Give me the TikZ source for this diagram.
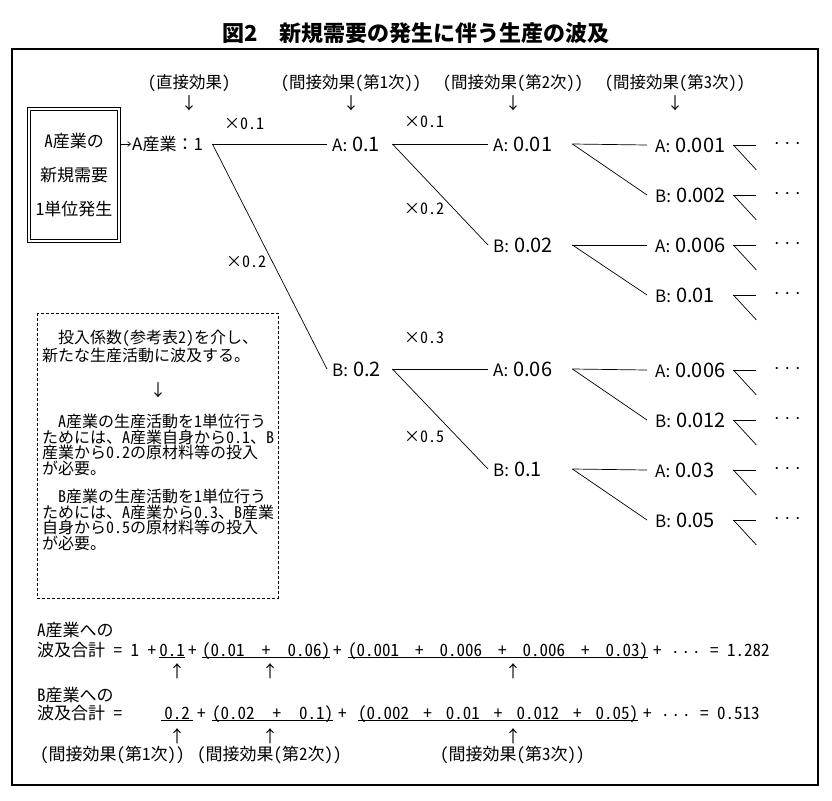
\documentclass[tikz,border=0pt]{standalone}
\usepackage{fontspec}
\setmainfont{Noto Sans CJK JP}
\newfontfamily\hwfont{Noto Sans CJK JP}[CharacterWidth=Half]
\usetikzlibrary{arrows.meta}
\newcommand\fs[1]{\fontsize{#1}{#1}\selectfont}
\newcommand\val[2]{\mbox{{\fs{17}#1:}\hspace{5pt}{\fs{20}#2}}}
\newcommand\spread[2]{\makebox[#1][s]{#2}}

\begin{document}
\begin{tikzpicture}[x=1pt,y=-1pt,every node/.style={inner sep=0pt},
    head/.style={font=\hwfont\fs{16.5}},
    mult/.style={font=\hwfont\fs{16},anchor=west},
    val/.style={anchor=west,inner xsep=5pt,inner ysep=2pt,text width=#1,align=left},
    link/.style={line width=0.7pt},
    note/.style={font=\hwfont\fontsize{16}{15.5}\selectfont,align=left,anchor=north west},
    sum/.style={font=\hwfont\fs{17},anchor=base west},
    ul/.style={sum,minimum width=#1}]
  \useasboundingbox (0,0) rectangle (832,800);
  \node[font=\bfseries\fs{22}] (title) at (416,33) {図2　新規需要の発生に伴う生産の波及};
  \draw[line width=2.5pt] (12,49) rectangle (818,785);

  \node[head] (h0) at (189,83) {(直接効果)};
  \node[head] (h1) at (351,83) {(間接効果(第1次))};
  \node[head] (h2) at (513,83) {(間接効果(第2次))};
  \node[head] (h3) at (675,83) {(間接効果(第3次))};
  \foreach \i/\x in {0/189,1/351,2/513,3/675}
    \node[head] (d\i) at (\x,103) {↓};

  \node[draw,double,line width=1pt,double distance=2.2pt,minimum width=90pt,minimum height=132pt,
    align=center,font=\hwfont\fs{17}] (src) at (74,175) {A産業の\\[17pt]新規需要\\[17pt]1単位発生};
  \node[val=79pt,inner xsep=1pt,font=\fs{17}] (root) at (131,144) {A産業：1};
  \draw[-{Straight Barb[length=3pt,width=5pt]},line width=0.6pt] (src.east |- root.west) -- (root.west);

  \node[val=55pt] (a1) at (327,144) {\val{A}{0.1}};
  \node[val=55pt] (b1) at (327,369) {\val{B}{0.2}};
  \node[val=74pt] (aa) at (488,144) {\val{A}{0.01}};
  \node[val=74pt] (ab) at (488,245) {\val{B}{0.02}};
  \node[val=74pt] (ba) at (488,369) {\val{A}{0.06}};
  \node[val=74pt] (bb) at (488,469) {\val{B}{0.1}};
  \foreach \i/\y/\l/\v in {1/145/A/0.001,2/195/B/0.002,3/245/A/0.006,4/295/B/0.01,
      5/370/A/0.006,6/420/B/0.012,7/470/A/0.03,8/520/B/0.05} {
    \node[val=70pt,inner xsep=8pt] (c\i) at (647,\y) {\val{\l}{\v}};
    \path (c\i.east) ++(23,0) coordinate (s\i) ++(0,25) coordinate (t\i);
    \draw[link] (c\i.east) -- (s\i);
    \draw[link] (c\i.east) -- (t\i);
    \node[font=\fs{10.5}] (e\i) at ([xshift=54pt]c\i.east) {・・・};
  }

  \draw[link] (root.east) -- (a1.west);
  \draw[link] (root.east) -- (b1.west);
  \draw[link] (a1.east) -- (aa.west);
  \draw[link] (a1.east) -- (ab.west);
  \draw[link] (b1.east) -- (ba.west);
  \draw[link] (b1.east) -- (bb.west);
  \foreach \p/\i/\j in {aa/1/2,ab/3/4,ba/5/6,bb/7/8} {
    \draw[link] (\p.east) -- (c\i.west);
    \draw[link] (\p.east) -- (c\j.west);
  }

  \node[mult] (m1) at (224,124) {×0.1};
  \node[mult] (m2) at (226,262) {×0.2};
  \node[mult] (m3) at (404,122) {×0.1};
  \node[mult] (m4) at (404,209) {×0.2};
  \node[mult] (m5) at (404,338) {×0.3};
  \node[mult] (m6) at (404,437) {×0.5};

  \draw[dash pattern=on 3pt off 2pt,line width=0.6pt] (37,313) rectangle (278,598);
  \node[note] (p1) at (42,330) {\hspace{16pt}投入係数(参考表2)を介し、\\新たな生産活動に波及する。};
  \node[head] (pd) at (158,390) {↓};
  \node[note] (p2) at (42,414) {\hspace{16pt}A産業の生産活動を1単位行う\\ためには、A産業自身から0.1、B\\産業から0.2の原材料等の投入\\が必要。};
  \node[note] (p3) at (42,489) {\hspace{16pt}B産業の生産活動を1単位行う\\ためには、A産業から0.3、B産業\\自身から0.5の原材料等の投入\\が必要。};

  \node[sum] (na) at (37,636) {A産業への};
  \node[sum] (la) at (37,656) {波及合計 = 1 +};
  \node[ul=26pt] (ua1) at (159,656) {0.1};
  \node[sum] (pa1) at (188,656) {+};
  \node[ul=128pt] (ua2) at (202,656) {\spread{128pt}{(0.01 + 0.06)}};
  \node[sum] (pa2) at (333,656) {+};
  \node[ul=300pt] (ua3) at (348,656) {\spread{300pt}{(0.001 + 0.006 + 0.006 + 0.03)}};
  \node[sum] (ta) at (653,656) {+ {\fs{10.5}・・・} = 1.282};

  \node[sum] (nb) at (37,701) {B産業への};
  \node[sum] (lb) at (37,719) {波及合計 =};
  \node[ul=32pt] (ub1) at (161,719) {0.2};
  \node[sum] (pb1) at (197,719) {+};
  \node[ul=121pt] (ub2) at (212,719) {\spread{121pt}{(0.02 + 0.1)}};
  \node[sum] (pb2) at (338,719) {+};
  \node[ul=280pt] (ub3) at (358,719) {\spread{280pt}{(0.002 + 0.01 + 0.012 + 0.05)}};
  \node[sum] (tb) at (643,719) {+ {\fs{10.5}・・・} = 0.513};
  \foreach \u in {ua1,ua2,ua3,ub1,ub2,ub3}
    \draw[line width=0.7pt] ([yshift=-1pt]\u.base west) -- ([yshift=-1pt]\u.base east);

  \foreach \x [count=\k] in {177,270,513} {
    \node[head] (ka\k) at (\x,671) {↑};
    \node[head] (kb\k) at (\x,736) {↑};
  }
  \node[head,font=\hwfont\fs{17},anchor=west] (q1) at (40,755) {(間接効果(第1次))};
  \node[head,font=\hwfont\fs{17},anchor=west] (q2) at (197,755) {(間接効果(第2次))};
  \node[head,font=\hwfont\fs{17},anchor=west] (q3) at (440,755) {(間接効果(第3次))};
\end{tikzpicture}
\end{document}
